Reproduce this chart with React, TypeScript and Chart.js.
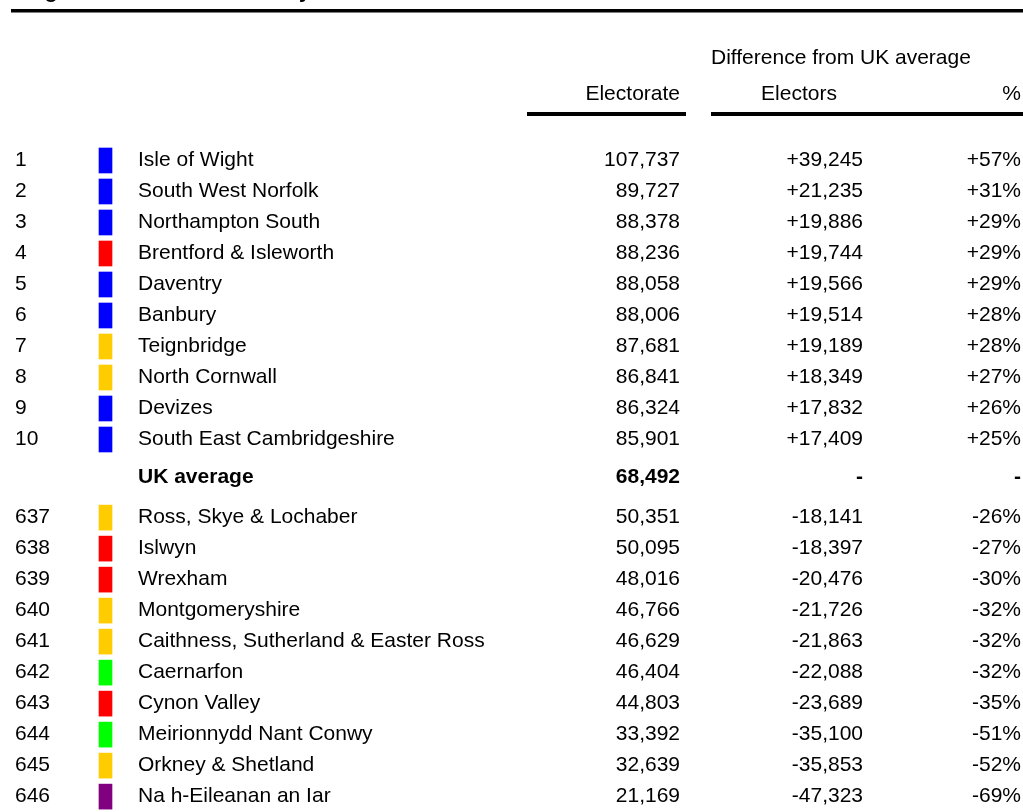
import React, { useEffect, useRef } from "react";
import { Chart, registerables } from "chart.js";

Chart.register(...registerables);

const TITLE = "Largest and smallest seats by electorate";
const GROUP_HEADER = "Difference from UK average";
const COL_HEADERS = ["Electorate", "Electors", "%"];

const RANKS = ["1", "2", "3", "4", "5", "6", "7", "8", "9", "10", "", "637", "638", "639", "640", "641", "642", "643", "644", "645", "646"];
const NAMES = [
  "Isle of Wight",
  "South West Norfolk",
  "Northampton South",
  "Brentford & Isleworth",
  "Daventry",
  "Banbury",
  "Teignbridge",
  "North Cornwall",
  "Devizes",
  "South East Cambridgeshire",
  "UK average",
  "Ross, Skye & Lochaber",
  "Islwyn",
  "Wrexham",
  "Montgomeryshire",
  "Caithness, Sutherland & Easter Ross",
  "Caernarfon",
  "Cynon Valley",
  "Meirionnydd Nant Conwy",
  "Orkney & Shetland",
  "Na h-Eileanan an Iar",
];
const PARTIES = ["Con", "Con", "Con", "Lab", "Con", "Con", "LD", "LD", "Con", "Con", "", "LD", "Lab", "Lab", "LD", "LD", "PC", "Lab", "PC", "LD", "SNP"];
const ELECTORATE = [107737, 89727, 88378, 88236, 88058, 88006, 87681, 86841, 86324, 85901, 68492, 50351, 50095, 48016, 46766, 46629, 46404, 44803, 33392, 32639, 21169];
const DIFF = [39245, 21235, 19886, 19744, 19566, 19514, 19189, 18349, 17832, 17409, null, -18141, -18397, -20476, -21726, -21863, -22088, -23689, -35100, -35853, -47323];
const PCT = [57, 31, 29, 29, 29, 28, 28, 27, 26, 25, null, -26, -27, -30, -32, -32, -32, -35, -51, -52, -69];
// vertical slot of each table row (the average row sits in a wider gap)
const ROW_SLOTS = [0, 1, 2, 3, 4, 5, 6, 7, 8, 9, 10.23, 11.52, 12.52, 13.52, 14.52, 15.52, 16.52, 17.52, 18.52, 19.52, 20.52];

const PARTY_COLORS: Record<string, string> = {
  Con: "#0000FF",
  Lab: "#FF0000",
  LD: "#FFCC00",
  PC: "#00FF00",
  SNP: "#800080",
};

const FONT = '"Liberation Sans", Arial, sans-serif';
const W = 1023;
const H = 812;
const ROW_PX = 31;
const FIRST_ROW_PX = 160.5;
const SWATCH = [99, 112];
const COL = { rank: 15, name: 138, electorate: 680, electors: 863, pct: 1021 };

const fmt = (n: number) => n.toLocaleString("en-GB");
const signed = (n: number | null, suffix = "") =>
  n === null ? "-" : (n > 0 ? "+" : "") + fmt(n) + suffix;

const tablePlugin = {
  id: "tableText",
  afterDatasetsDraw(chart: any) {
    const { ctx } = chart;
    const xs = chart.scales.x;
    const ys = chart.scales.y;
    const px = (v: number) => xs.getPixelForValue(v);
    ctx.save();
    ctx.fillStyle = "#000";
    ctx.textBaseline = "alphabetic";

    // title (cut off at top of page)
    ctx.font = `bold 21px ${FONT}`;
    ctx.textAlign = "left";
    ctx.fillText(TITLE, px(12), -2.5);
    ctx.fillRect(px(11), 9, px(W) - px(11), 3.5);

    // headers
    ctx.font = `21px ${FONT}`;
    ctx.textAlign = "left";
    ctx.fillText(GROUP_HEADER, px(711), 64);
    ctx.textAlign = "right";
    ctx.fillText(COL_HEADERS[0], px(COL.electorate), 100);
    ctx.textAlign = "center";
    ctx.fillText(COL_HEADERS[1], px(799), 100);
    ctx.textAlign = "right";
    ctx.fillText(COL_HEADERS[2], px(COL.pct), 100);
    ctx.fillRect(px(527), 112, px(686) - px(527), 4);
    ctx.fillRect(px(711), 112, px(W) - px(711), 4);

    // rows
    ROW_SLOTS.forEach((slot, i) => {
      const y = ys.getPixelForValue(slot) + 5.2;
      const bold = PARTIES[i] === "";
      ctx.font = `${bold ? "bold " : ""}21px ${FONT}`;
      ctx.textAlign = "left";
      ctx.fillText(RANKS[i], px(COL.rank), y);
      ctx.fillText(NAMES[i], px(COL.name), y);
      ctx.textAlign = "right";
      ctx.fillText(fmt(ELECTORATE[i]), px(COL.electorate), y);
      ctx.fillText(signed(DIFF[i]), px(COL.electors), y);
      ctx.fillText(signed(PCT[i], "%"), px(COL.pct), y);
    });
    ctx.restore();
  },
};

export default function App() {
  const ref = useRef<HTMLCanvasElement | null>(null);
  useEffect(() => {
    if (!ref.current) return;
    const idx = PARTIES.map((p, i) => i).filter((i) => PARTIES[i] !== "");
    const chart = new Chart(ref.current, {
      type: "bar",
      data: {
        datasets: [
          {
            label: "Party",
            data: idx.map((i) => ({ x: SWATCH, y: ROW_SLOTS[i] })) as any,
            backgroundColor: idx.map((i) => PARTY_COLORS[PARTIES[i]]),
            barThickness: 25,
            borderWidth: 0,
          },
        ],
      },
      options: {
        indexAxis: "y",
        responsive: false,
        animation: false,
        layout: { padding: 0 },
        plugins: { legend: { display: false }, tooltip: { enabled: false }, title: { display: false } },
        scales: {
          x: { type: "linear", min: 0, max: W, display: false, offset: false, grace: 0 },
          y: {
            type: "linear",
            reverse: true,
            offset: false,
            grace: 0,
            min: -FIRST_ROW_PX / ROW_PX,
            max: (H - FIRST_ROW_PX) / ROW_PX,
            display: false,
          },
        },
      },
      plugins: [tablePlugin],
    });
    return () => chart.destroy();
  }, []);
  return (
    <div style={{ position: "fixed", top: 0, left: 0, width: W, height: H, background: "#fff" }}>
      <canvas ref={ref} width={W} height={H} style={{ display: "block" }} />
    </div>
  );
}
